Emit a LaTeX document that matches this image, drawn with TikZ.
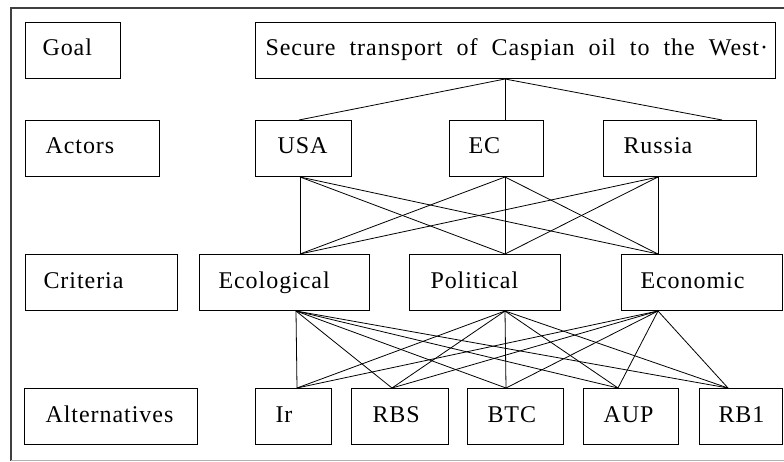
\documentclass[tikz,border=0pt]{standalone}
\usepackage{fontspec}
\setmainfont{Liberation Serif}[LetterSpace=4]
\begin{document}
\begin{tikzpicture}[x=1pt, y=-1pt,
  box/.style={draw, line width=1pt, anchor=north west, minimum height=56pt,
    inner ysep=0pt, text height=16pt, text depth=5pt, align=left,
    font=\fontsize{24}{26}\selectfont},
  link/.style={line width=0.8pt},
  frameline/.style={line width=1.3pt, draw=black!75}]
\useasboundingbox (0,0) rectangle (784,462);

% outer frame
\draw[frameline] (784,8) -- (11,8) -- (11,461);
\draw[line width=1pt, draw=black!30] (11,460.5) -- (784,460.5);

% name, x, y, text width, side padding, label
\newcommand\levelbox[6]{%
  \node[box, inner xsep=#5pt, text width=#4pt] (#1) at (#2,#3)
    {\mbox{\spaceskip=14pt\relax #6}};}

% level labels
\levelbox{goal}{25}{22}{61}{17}{Goal}
\levelbox{actors}{25}{120}{94}{20}{Actors}
\levelbox{criteria}{25}{254}{116}{18}{Criteria}
\levelbox{alts}{24}{388}{131}{21}{Alternatives}

% goal
\levelbox{secure}{255}{22}{500}{10}{Secure transport of Caspian oil to the West·}

% actors
\levelbox{usa}{255}{120}{52}{22}{USA}
\levelbox{ec}{449}{120}{56}{19}{EC}
\levelbox{russia}{603}{120}{113}{20}{Russia}

% criteria
\levelbox{ecol}{199}{254}{132}{19}{Ecological}
\levelbox{polit}{409}{254}{109}{21}{Political}
\levelbox{econ}{621}{254}{123}{19}{Economic}

% alternatives
\levelbox{ir}{255}{388}{36}{20}{Ir}
\levelbox{rbs}{351}{388}{55}{21}{RBS}
\levelbox{btc}{467}{388}{56}{20}{BTC}
\levelbox{aup}{583}{388}{55}{20}{AUP}
\levelbox{rbone}{699}{388}{45}{19}{RB1}

% attachment points on the box borders
\coordinate (secureB) at ([xshift=250pt]secure.south west);
\coordinate (usaT) at ([xshift=44pt]usa.north west);
\coordinate (usaB) at ([xshift=45pt]usa.south west);
\coordinate (ecT) at ([xshift=56pt]ec.north west);
\coordinate (ecB) at ([xshift=56pt]ec.south west);
\coordinate (russiaT) at ([xshift=119pt]russia.north west);
\coordinate (russiaB) at ([xshift=55pt]russia.south west);
\coordinate (ecolT) at ([xshift=101pt]ecol.north west);
\coordinate (ecolB) at ([xshift=97pt]ecol.south west);
\coordinate (politT) at ([xshift=96pt]polit.north west);
\coordinate (politB) at ([xshift=96pt]polit.south west);
\coordinate (econT) at ([xshift=37pt]econ.north west);
\coordinate (econB) at ([xshift=37pt]econ.south west);
\coordinate (irT) at ([xshift=42pt]ir.north west);
\coordinate (rbsT) at ([xshift=41pt]rbs.north west);
\coordinate (btcT) at ([xshift=39pt]btc.north west);
\coordinate (aupT) at ([xshift=35pt]aup.north west);
\coordinate (rboneT) at ([xshift=29pt]rbone.north west);

% goal to actors
\foreach \a in {usa, ec, russia} \draw[link] (secureB) -- (\a T);

% actors to criteria
\foreach \a in {usa, ec, russia}
  \foreach \c in {ecol, polit, econ}
    \draw[link] (\a B) -- (\c T);

% criteria to alternatives
\foreach \c in {ecol, polit, econ}
  \foreach \p in {ir, rbs, btc, aup, rbone}
    \draw[link] (\c B) -- (\p T);
\end{tikzpicture}
\end{document}
